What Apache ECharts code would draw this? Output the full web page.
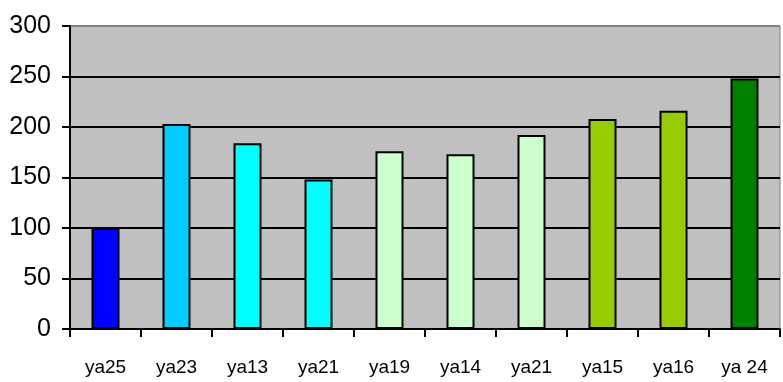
<!DOCTYPE html>
<html>
<head>
<meta charset="utf-8">
<style>
  html, body { margin: 0; padding: 0; background: #fff; }
  #chart { width: 783px; height: 382px; }
</style>
<script src="https://cdn.jsdelivr.net/npm/echarts@6/dist/echarts.min.js"></script>
</head>
<body>
<div id="chart"></div>
<script>
// Category labels along the bottom axis
const categories = ['ya25', 'ya23', 'ya13', 'ya21', 'ya19', 'ya14', 'ya21', 'ya15', 'ya16', 'ya 24'];
// Bar heights
const values = [100, 203, 184, 148, 176, 173, 192, 208, 216, 248];
// Fill colour of each bar
const barColors = ['#0000FF', '#00CCFF', '#00FFFF', '#00FFFF', '#CCFFCC', '#CCFFCC', '#CCFFCC', '#99CC00', '#99CC00', '#008000'];
// Value axis range
const yMin = 0, yMax = 300, yStep = 50;

const FONT = '"Liberation Sans", Arial, sans-serif';

const chart = echarts.init(document.getElementById('chart'));
chart.setOption({
  animation: false,
  grid: {
    left: 70, right: 3, top: 26, bottom: 53,
    show: true,
    backgroundColor: '#C0C0C0',
    borderColor: '#808080',
    borderWidth: 1
  },
  xAxis: {
    type: 'category',
    data: categories,
    boundaryGap: true,
    axisLine: { show: true, lineStyle: { color: '#000', width: 2 } },
    axisTick: { show: true, alignWithLabel: false, length: 8, lineStyle: { color: '#000', width: 2 } },
    axisLabel: { color: '#000', fontFamily: FONT, fontSize: 19, margin: 29 },
    splitLine: { show: false }
  },
  yAxis: {
    type: 'value',
    min: yMin, max: yMax, interval: yStep,
    axisLine: { show: true, lineStyle: { color: '#000', width: 2 } },
    axisTick: { show: true, length: 8, lineStyle: { color: '#000', width: 2 } },
    axisLabel: { color: '#000', fontFamily: FONT, fontSize: 25, margin: 19 },
    splitLine: {
      show: true,
      lineStyle: { color: ['#000', '#000', '#000', '#000', '#000', '#000', '#808080'], width: 2 }
    }
  },
  series: [{
    type: 'bar',
    barWidth: 28,
    data: values.map((v, i) => ({
      value: v,
      itemStyle: { color: barColors[i], borderColor: '#000', borderWidth: 2 }
    }))
  }]
});
</script>
</body>
</html>
